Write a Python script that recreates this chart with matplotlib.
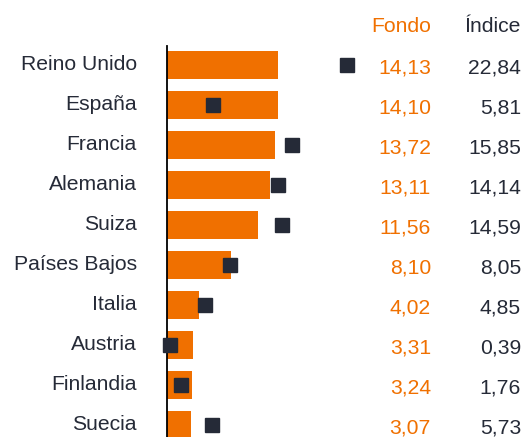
import matplotlib.pyplot as plt
import matplotlib.transforms as mtransforms

paises = ["Reino Unido", "España", "Francia", "Alemania", "Suiza",
          "Países Bajos", "Italia", "Austria", "Finlandia", "Suecia"]
fondo = [14.13, 14.10, 13.72, 13.11, 11.56, 8.10, 4.02, 3.31, 3.24, 3.07]
indice = [22.84, 5.81, 15.85, 14.14, 14.59, 8.05, 4.85, 0.39, 1.76, 5.73]

naranja = "#f07000"
oscuro = "#252a37"
plt.rcParams["font.family"] = ["Liberation Sans", "DejaVu Sans"]
fs = 15.2

W, H = 523, 437
fig = plt.figure(figsize=(W / 100, H / 100), dpi=100)
ax = fig.add_axes([167 / W, 0, (W - 167) / W, (437 - 46) / H])

y = list(range(len(paises)))
ax.barh(y, fondo, height=0.68, color=naranja, zorder=2)
ax.plot(indice, y, "s", color=oscuro, markersize=10, zorder=3, clip_on=False)

ax.set_xlim(0, (W - 167) / 7.86)
ax.set_ylim(9.3, -0.475)
for s in ["top", "right", "bottom"]:
    ax.spines[s].set_visible(False)
ax.spines["left"].set_linewidth(1.3)
ax.spines["left"].set_color("black")
ax.set_xticks([])
ax.set_yticks([])

def fmt(v):
    return f"{v:.2f}".replace(".", ",")

# numbers sit a touch lower than the country labels
dy = 0.07
tr = mtransforms.blended_transform_factory(fig.transFigure, ax.transData)
for i, p in enumerate(paises):
    ax.text(137 / W, i, p, transform=tr, ha="right", va="center",
            fontsize=fs, color=oscuro, clip_on=False)
    ax.text(431 / W, i + dy, fmt(fondo[i]), transform=tr, ha="right", va="center",
            fontsize=fs, color=naranja, clip_on=False)
    ax.text(521 / W, i + dy, fmt(indice[i]), transform=tr, ha="right", va="center",
            fontsize=fs, color=oscuro, clip_on=False)

ax.text(431 / W, -0.95, "Fondo", transform=tr, ha="right", va="center",
        fontsize=fs, color=naranja, clip_on=False)
ax.text(521 / W, -0.95, "Índice", transform=tr, ha="right", va="center",
        fontsize=fs, color=oscuro, clip_on=False)

fig.savefig("out.png", dpi=100)
